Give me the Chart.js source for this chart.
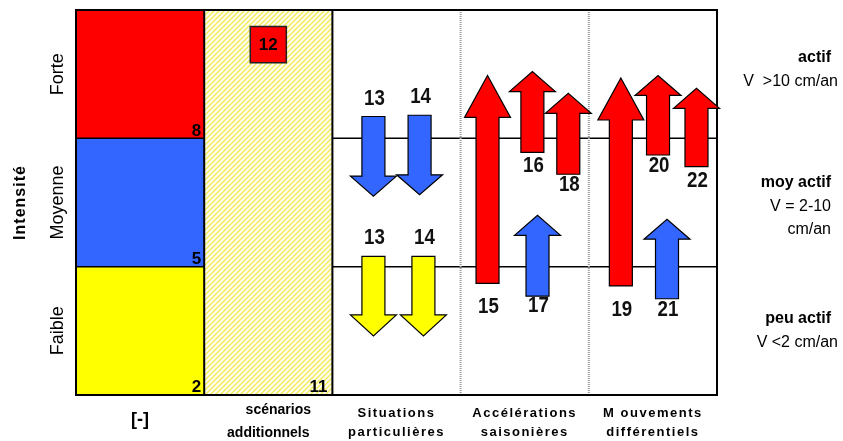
<!DOCTYPE html>
<html>
<head>
<meta charset="utf-8">
<script src="https://cdn.jsdelivr.net/npm/chart.js@4.4.0/dist/chart.umd.min.js"></script>
<style>body{margin:0;background:#fff}</style>
</head>
<body>
<canvas id="mycanvas" width="843" height="441"></canvas>
<script>
// categories
var columns = [["[-]"], ["scénarios", "additionnels"], ["Situations", "particulières"], ["Accélérations", "saisonières"], ["M ouvements", "différentiels"]];
var intensities = ["Faible", "Moyenne", "Forte"];
var intensityCodes = ["2", "5", "8"];
var scenarioCode = "11";
var scenarioBox = {x: 1.5, y: 2.73, label: "12"};
var activityTitles = ["peu actif", "moy actif", "actif"];
var activityTexts = [["V <2 cm/an"], ["V = 2-10", "cm/an"], ["V  >10 cm/an"]];

// arrows (x position in columns, tail and tip in intensity units)
var arrowNames = ["13", "14", "13", "14", "15", "16", "18", "17", "19", "20", "22", "21"];
var arrowX     = [2.32, 2.68, 2.32, 2.71, 3.21, 3.56, 3.84, 3.60, 4.25, 4.54, 4.84, 4.61];
var arrowFrom  = [2.17, 2.18, 1.08, 1.08, 0.87, 1.89, 1.72, 0.77, 0.85, 1.87, 1.78, 0.75];
var arrowTo    = [1.55, 1.56, 0.46, 0.46, 2.49, 2.52, 2.35, 1.40, 2.47, 2.49, 2.39, 1.37];

// styles
var RED = "#ff0000", BLUE = "#3366ff", YELLOW = "#ffff00";
var arrowColors = [BLUE, BLUE, YELLOW, YELLOW, RED, RED, RED, BLUE, RED, RED, RED, BLUE];
var arrowHead   = [20, 20, 21, 21, 42, 20, 20, 20, 42, 20, 20, 20];
var labelGap    = [18, 18, 18, 18, 24, 13, 11, 10, 24, 11, 14, 11];
var bandColors  = [YELLOW, BLUE, RED];

function hatch() {
    var c = document.createElement("canvas");
    c.width = 5; c.height = 5;
    var g = c.getContext("2d");
    g.fillStyle = "#fffef0";
    g.fillRect(0, 0, 5, 5);
    g.strokeStyle = "#f4ea55";
    g.lineWidth = 1.3;
    g.beginPath();
    g.moveTo(-1, 6); g.lineTo(6, -1);
    g.moveTo(-1, 1); g.lineTo(1, -1);
    g.moveTo(4, 6); g.lineTo(6, 4);
    g.stroke();
    return g.createPattern(c, "repeat");
}

function narrowText(ctx, txt, x, y) {
    ctx.save();
    ctx.translate(x, y);
    ctx.scale(0.85, 1);
    ctx.fillText(txt, 0, 0);
    ctx.restore();
}

var drawPlugin = {
    id: "schema",
    beforeDatasetsDraw: function(chart){
        var ctx = chart.ctx, sx = chart.scales.x, sy = chart.scales.y;
        var X = function(v){ return sx.getPixelForValue(v); };
        var Y = function(v){ return sy.getPixelForValue(v); };
        ctx.save();
        // intensity bands in first column
        for (var i = 0; i < 3; i++) {
            ctx.fillStyle = bandColors[i];
            ctx.fillRect(X(0), Y(i + 1), X(1) - X(0), Y(i) - Y(i + 1));
        }
        // hatched column
        ctx.fillStyle = hatch();
        ctx.fillRect(X(1), Y(3), X(2) - X(1), Y(0) - Y(3));
        // class lines
        ctx.strokeStyle = "#000";
        ctx.lineWidth = 1.5;
        ctx.beginPath();
        for (var k = 1; k < 3; k++) {
            ctx.moveTo(X(0), Y(k)); ctx.lineTo(X(1), Y(k));
            ctx.moveTo(X(2), Y(k)); ctx.lineTo(X(5), Y(k));
        }
        ctx.stroke();
        // dotted separators
        ctx.strokeStyle = "#999";
        ctx.lineWidth = 2;
        ctx.setLineDash([1, 1]);
        ctx.beginPath();
        ctx.moveTo(X(3), Y(3)); ctx.lineTo(X(3), Y(0));
        ctx.moveTo(X(4), Y(3)); ctx.lineTo(X(4), Y(0));
        ctx.stroke();
        ctx.setLineDash([]);
        // solid separators and frame
        ctx.strokeStyle = "#000";
        ctx.lineWidth = 2;
        ctx.beginPath();
        ctx.moveTo(X(1), Y(3)); ctx.lineTo(X(1), Y(0));
        ctx.moveTo(X(2), Y(3)); ctx.lineTo(X(2), Y(0));
        ctx.stroke();
        ctx.strokeRect(X(0), Y(3), X(5) - X(0), Y(0) - Y(3));

        // arrows
        for (var a = 0; a < arrowNames.length; a++) {
            var cx = X(arrowX[a]), yt = Y(arrowFrom[a]), yp = Y(arrowTo[a]);
            var dir = yp > yt ? 1 : -1;
            var base = yp - dir * arrowHead[a];
            var sw = 11.5, hw = 23;
            ctx.beginPath();
            ctx.moveTo(cx - sw, yt);
            ctx.lineTo(cx - sw, base);
            ctx.lineTo(cx - hw, base);
            ctx.lineTo(cx, yp);
            ctx.lineTo(cx + hw, base);
            ctx.lineTo(cx + sw, base);
            ctx.lineTo(cx + sw, yt);
            ctx.closePath();
            ctx.fillStyle = arrowColors[a];
            ctx.fill();
            ctx.lineWidth = 1.2;
            ctx.strokeStyle = "#000";
            ctx.stroke();
            ctx.fillStyle = "#111";
            ctx.font = "bold 22px 'Liberation Sans', Arial, sans-serif";
            ctx.textAlign = "center";
            ctx.textBaseline = "middle";
            narrowText(ctx, arrowNames[a], cx + 1, yt - dir * labelGap[a]);
        }
        ctx.restore();
    },
    afterDraw: function(chart){
        var ctx = chart.ctx, sx = chart.scales.x, sy = chart.scales.y;
        var X = function(v){ return sx.getPixelForValue(v); };
        var Y = function(v){ return sy.getPixelForValue(v); };
        ctx.save();
        ctx.fillStyle = "#000";
        // codes
        ctx.font = "bold 17px 'Liberation Sans', Arial, sans-serif";
        ctx.textAlign = "right";
        ctx.textBaseline = "bottom";
        for (var i = 0; i < 3; i++) ctx.fillText(intensityCodes[i], X(1) - 3, Y(i) + 1);
        ctx.fillText(scenarioCode, X(2) - 5, Y(0) + 1);
        ctx.textAlign = "center";
        ctx.textBaseline = "middle";
        ctx.fillText(scenarioBox.label, X(scenarioBox.x), Y(scenarioBox.y) + 1);

        // y labels
        ctx.font = "18px 'Liberation Sans', Arial, sans-serif";
        for (var j = 0; j < 3; j++) {
            ctx.save();
            ctx.translate(X(0) - 18, Y(j + 0.5));
            ctx.rotate(-Math.PI / 2);
            ctx.fillText(intensities[j], 0, 0);
            ctx.restore();
        }
        ctx.save();
        ctx.font = "bold 16px 'Liberation Sans', Arial, sans-serif";
        ctx.letterSpacing = "1px";
        ctx.translate(21, Y(1.5));
        ctx.rotate(-Math.PI / 2);
        ctx.fillText("Intensité", 0, 0);
        ctx.restore();

        // x labels
        ctx.font = "bold 18px 'Liberation Sans', Arial, sans-serif";
        ctx.fillText(columns[0][0], X(0.5), 420);
        ctx.font = "bold 14px 'Liberation Sans', Arial, sans-serif";
        ctx.fillText(columns[1][0], X(1.5) + 10, 410);
        ctx.fillText(columns[1][1], X(1.5), 433);
        ctx.font = "bold 13px 'Liberation Sans', Arial, sans-serif";
        ctx.letterSpacing = "1.5px";
        for (var c = 2; c < 5; c++) {
            ctx.fillText(columns[c][0], X(c + 0.5), 413);
            ctx.fillText(columns[c][1], X(c + 0.5), 432);
        }
        ctx.letterSpacing = "0px";

        // activity legend on the right
        ctx.textAlign = "right";
        var tops = [319, 183, 58];
        var rights = [838, 831, 838];
        for (var r = 0; r < 3; r++) {
            ctx.font = "bold 16px 'Liberation Sans', Arial, sans-serif";
            ctx.fillText(activityTitles[r], 831, tops[r]);
            ctx.font = "16px 'Liberation Sans', Arial, sans-serif";
            for (var l = 0; l < activityTexts[r].length; l++) {
                ctx.fillText(activityTexts[r][l], rights[r], tops[r] + 24 + l * 23);
            }
        }
        ctx.restore();
    }
};

var ctx = document.getElementById("mycanvas");
var schema = new Chart(ctx, {
    type: "scatter",
    data: {
        datasets: [{
            label: "12",
            data: [{x: scenarioBox.x, y: scenarioBox.y}],
            pointStyle: "rect",
            pointRadius: 25.5,
            pointHoverRadius: 25.5,
            backgroundColor: RED,
            borderColor: "#222",
            borderWidth: 1.5
        }]
    },
    options: {
        responsive: false,
        animation: false,
        layout: {autoPadding: false, padding: {left: 76, right: 126, top: 10, bottom: 46}},
        plugins: {legend: {display: false}, tooltip: {enabled: false}},
        scales: {
            x: {type: "linear", min: 0, max: 5, display: false},
            y: {type: "linear", min: 0, max: 3, display: false}
        }
    },
    plugins: [drawPlugin]
});
</script>
</body>
</html>
